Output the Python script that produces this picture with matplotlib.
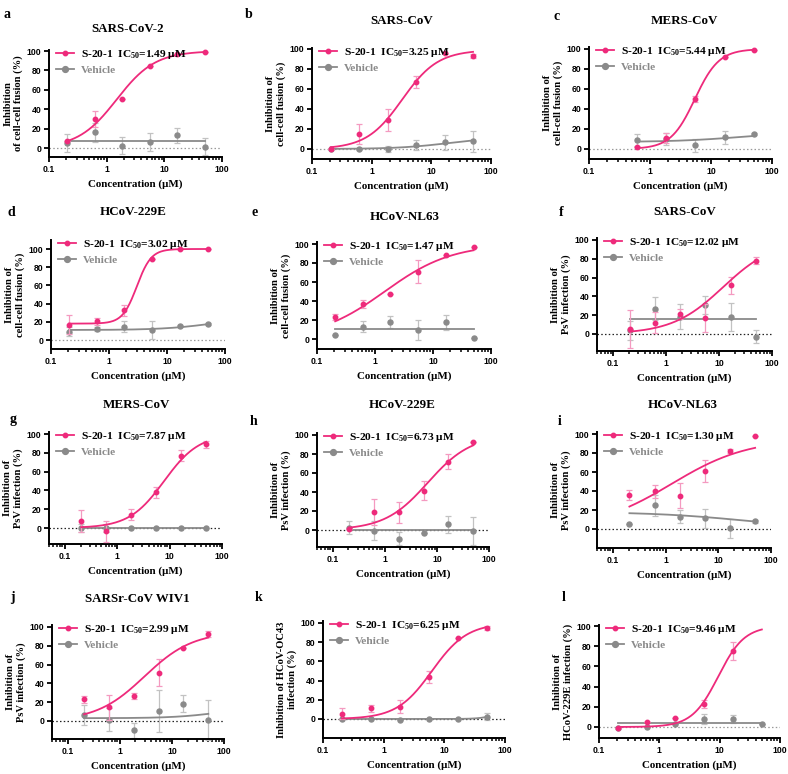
import numpy as np
import matplotlib
matplotlib.use("Agg")
import matplotlib.pyplot as plt
from matplotlib.ticker import LogLocator, FixedLocator, FuncFormatter, NullFormatter

plt.rcParams['font.family'] = ['Liberation Serif', 'DejaVu Serif']
plt.rcParams['mathtext.fontset'] = 'custom'
plt.rcParams['mathtext.rm'] = 'Liberation Serif:bold'
plt.rcParams['mathtext.bf'] = 'Liberation Serif:bold'
plt.rcParams['mathtext.default'] = 'rm'

# ---------------- data ----------------
conc = [0.206, 0.617, 1.85, 5.56, 16.7, 50]
letters = ['a', 'b', 'c', 'd', 'e', 'f', 'g', 'h', 'i', 'j', 'k', 'l']
titles = ['SARS-CoV-2', 'SARS-CoV', 'MERS-CoV', 'HCoV-229E', 'HCoV-NL63', 'SARS-CoV',
          'MERS-CoV', 'HCoV-229E', 'HCoV-NL63', 'SARSr-CoV WIV1', '', '']
ylabels = ['Inhibition\nof cell-cell fusion (%)', 'Inhibition of\ncell-cell fusion (%)',
           'Inhibition of\ncell-cell fusion (%)', 'Inhibition of\ncell-cell fusion (%)',
           'Inhibition of\ncell-cell fusion (%)', 'Inhibition of\nPsV infection (%)',
           'Inhibition of\nPsV infection (%)', 'Inhibition of\nPsV infection (%)',
           'Inhibition of\nPsV infection (%)', 'Inhibition of\nPsV infection (%)',
           'Inhibition of HCoV-OC43\ninfection (%)', 'Inhibition of\nHCoV-229E infection (%)']
ic50_text = ['1.49', '3.25', '5.44', '3.02', '1.47', '12.02', '7.87', '6.73', '1.30', '2.99', '6.25', '9.46']

nan = np.nan
s20_mean = [
    [7, 30, 51, 85, 97, 99],
    [0.5, 15, 29, 67, 96, 93],
    [nan, 2, 11, 50, 92, 99],
    [17, 20.5, 32.5, 89, 100, 100],
    [23, 37, 47.5, 71, 88.5, 96.5],
    [5.3, 12, 21, 17, 52, 78],
    [7.5, -3.5, 14, 38, 77, 89],
    [0.7, 19, 18.5, 41.5, 72, 93],
    [35.7, 39.5, 35, 61, 82.5, 98],
    [23, 14.5, 26.5, 51.5, 77.5, 92.5],
    [5.6, 11, 13, 43.5, 84, 95],
    [-1, 5.2, 9.3, 23, 75, nan],
]
s20_err = [
    [0, 8, 0, 0, 0, 0],
    [0, 10, 11, 6, 0, 2],
    [0, 0, 5, 3, 0, 0],
    [10, 4, 6, 0, 0, 0],
    [3, 4, 0, 12, 0, 0],
    [20, 11, 5.5, 14.5, 9, 4],
    [12, 11, 6, 6, 6, 4],
    [0, 14, 11, 10, 8, 0],
    [5, 7, 13, 12, 2, 0],
    [4, 13, 3, 14, 0, 3],
    [6, 4, 7, 6, 0, 2],
    [0, 0, 0, 4, 9, 0],
]
veh_mean = [
    [5, 16, 2.5, 6, 13, 1.5],
    [0, 0, 0, 4, 7, 8],
    [nan, 9, 10, 4, 12, 15],
    [9, 12, 14.5, 11, 15, 17.5],
    [4, 13, 18, 9.5, 17.5, 1],
    [4, 27, 18.5, 31, 18, -3],
    [0, 0, 0, 0, 0, 0],
    [2.5, -1, -9, -3.5, 6, -1],
    [5, 25, 13, 11.5, 1, 8],
    [6.5, 1.5, -10, 10.5, 18.5, 1],
    [0, -0.5, -1, 0.5, 0, 2.5],
    [-0.5, 0, 3, 7.5, 7.5, 3],
]
veh_err = [
    [9, 10, 8.5, 9.5, 7.5, 9],
    [0, 1, 3, 5, 7.5, 10.5],
    [0, 6, 6, 6.5, 6.5, 1],
    [5, 2, 6, 10, 1, 1],
    [0, 6, 6.5, 10.5, 7.5, 0],
    [10, 12, 13.5, 9.5, 14.5, 7],
    [4, 4, 0, 0, 0, 0],
    [6.5, 10, 7, 0, 9, 15],
    [0, 11, 7, 10, 10, 2],
    [11, 12, 8, 22, 9, 21],
    [0, 0, 0, 0, 0, 4],
    [0, 0, 0, 5, 4, 0],
]
# 4PL fit parameters: bottom, top, IC50, Hill slope
s20_fit = [
    (0, 100, 1.49, 1.3), (0, 99, 3.25, 1.45), (0, 100, 5.44, 2.2), (18, 100, 3.02, 3.5),
    (0, 100, 1.47, 0.75), (0, 100, 12.02, 0.9), (0, 100, 7.87, 1.3), (0, 100, 6.73, 1.05),
    (0, 95, 1.30, 0.6), (0, 95, 2.99, 0.94), (0, 100, 6.25, 1.5), (0, 100, 9.46, 2.0),
]
veh_fit = [
    (7.5, 7.5, 1, 1), (0, 12, 20, 1), (7, 17, 30, 0.8), (11, 25, 60, 1),
    (10.5, 10.5, 1, 1), (16, 16, 1, 1), (0, 0, 1, 1), (0, 0, 1, 1),
    (18, 0, 30, 0.5), (3, 15, 80, 1), (0, 20, 100, 3), (3.5, 3.5, 1, 1),
]

# ---------------- layout (pixels) ----------------
W, H = 788, 774
# left, right(x=100), y(100%), y(0%), bottom, xmin, ytop
layout = [
    (49, 222, 51, 148, 157, 0.1, 101), (312, 491, 49, 149, 159, 0.1, 101),
    (589, 772, 49, 149, 159, 0.1, 102), (51, 225, 249, 340, 349, 0.1, 110),
    (317, 491, 244, 339, 349, 0.1, 102), (597, 772, 240, 334, 351, 0.05, 102),
    (49, 222, 434, 528, 544, 0.05, 102), (317, 489, 435, 530, 547, 0.05, 102),
    (597, 771, 434, 529, 548, 0.05, 102), (52, 224, 627, 721, 739, 0.05, 102),
    (323, 505, 623, 719, 738, 0.1, 102), (599, 780, 626, 727, 738, 0.1, 101),
]
letter_pos = [(4, 8), (245, 8), (553, 10), (8, 206), (251, 206), (559, 206),
              (10, 413), (250, 415), (558, 415), (10, 591), (255, 591), (562, 591)]
title_pos = [(128, 29), (402, 21), (684, 21), (133, 212), (405, 217), (685, 212),
             (136, 405), (402, 405), (683, 405), (137, 599), (0, 0), (0, 0)]
zero_color = ['#999999', '#999999', '#999999', '#999999', None, '#222222',
              '#222222', '#222222', '#222222', '#222222', '#222222', '#999999']

PINK = '#EE2A7B'
PINK_ERR = '#F49AC0'
GRAY = '#8A8A8A'
GRAY_ERR = '#C2C2C2'


def fourpl(x, p):
    b, t, ic, h = p
    return b + (t - b) / (1 + (ic / x) ** h)


fig = plt.figure(figsize=(W / 100, H / 100), dpi=100)
tickfont = dict(family='Liberation Sans', weight='bold', size=6.2)

for i in range(12):
    l, r, y100, y0, bot, xmin, ytop = layout[i]
    sc = (y0 - y100) / 100.0
    ybot = -(bot - y0) / sc
    top = y100 - (ytop - 100) * sc
    ax = fig.add_axes([l / W, 1 - bot / H, (r - l) / W, (bot - top) / H])
    ax.set_xscale('log')
    ax.set_xlim(xmin, 100)
    ax.set_ylim(ybot, ytop)

    x = np.array(conc)
    sm = np.array(s20_mean[i], float)
    se = np.array(s20_err[i], float)
    vm = np.array(veh_mean[i], float)
    ve = np.array(veh_err[i], float)

    if zero_color[i]:
        ax.axhline(0, color=zero_color[i], ls=(0, (1.2, 1.8)), lw=0.9, zorder=1)

    # fits
    x0 = conc[1] if i == 2 else conc[0]
    xs = np.logspace(np.log10(x0), np.log10(conc[-1]), 200)
    ax.plot(xs, fourpl(xs, veh_fit[i]), color=GRAY, lw=1.3, zorder=3, clip_on=False)
    ax.plot(xs, fourpl(xs, s20_fit[i]), color=PINK, lw=1.3, zorder=5, clip_on=False)

    ax.errorbar(x, vm, yerr=ve, fmt='none', ecolor=GRAY_ERR, elinewidth=0.9,
                capsize=2.2, capthick=0.9, zorder=2, clip_on=False)
    ax.errorbar(x, sm, yerr=se, fmt='none', ecolor=PINK_ERR, elinewidth=0.9,
                capsize=2.2, capthick=0.9, zorder=4, clip_on=False)
    ax.plot(x, vm, 'o', color=GRAY, ms=3.6, zorder=3, clip_on=False)
    ax.plot(x, sm, 'o', color=PINK, ms=3.2, zorder=6, clip_on=False)

    # legend
    h1, = ax.plot([], [], '-o', color=PINK, lw=1.3, ms=3.2)
    h2, = ax.plot([], [], '-o', color=GRAY, lw=1.3, ms=4.2)
    leg = ax.legend([h1, h2], ['S-20-1  IC$_{50}$=' + ic50_text[i] + ' μM', 'Vehicle'],
                    loc='upper left', bbox_to_anchor=(0.0, 1.08), frameon=False,
                    handlelength=1.6, handletextpad=0.6, labelspacing=0.35,
                    borderaxespad=0.2, prop=dict(family='Liberation Serif', weight='bold', size=8.2))
    leg.get_texts()[1].set_color(GRAY)
    leg.set_zorder(10)

    # axes styling
    for s in ['top', 'right']:
        ax.spines[s].set_visible(False)
    for s in ['left', 'bottom']:
        ax.spines[s].set_linewidth(1.4)
    ax.spines['left'].set_bounds(ybot, ytop)
    ax.yaxis.set_major_locator(FixedLocator([0, 20, 40, 60, 80, 100]))
    ax.xaxis.set_major_locator(FixedLocator([0.1, 1, 10, 100]))
    ax.xaxis.set_minor_locator(LogLocator(base=10, subs=np.arange(2, 10)))
    ax.xaxis.set_minor_formatter(NullFormatter())
    ax.xaxis.set_major_formatter(FuncFormatter(lambda v, p: '%g' % v))
    ax.tick_params(which='major', length=3.5, width=1.3, pad=2)
    ax.tick_params(which='minor', length=2.2, width=1.1)
    for lab in ax.get_xticklabels() + ax.get_yticklabels():
        lab.set_fontproperties(matplotlib.font_manager.FontProperties(**tickfont))
    ax.set_xlabel('Concentration (μM)', fontsize=7.9, fontweight='bold', labelpad=4)
    ax.set_ylabel(ylabels[i], fontsize=7.6, fontweight='bold', labelpad=3, linespacing=1.1)
    ax.patch.set_alpha(0)

    fig.text(letter_pos[i][0] / W, 1 - letter_pos[i][1] / H, letters[i], fontsize=10,
             fontweight='bold', ha='left', va='top')
    if titles[i]:
        fig.text(title_pos[i][0] / W, 1 - title_pos[i][1] / H, titles[i], fontsize=9.4,
                 fontweight='bold', ha='center', va='center')

fig.savefig('out.png', dpi=100)
